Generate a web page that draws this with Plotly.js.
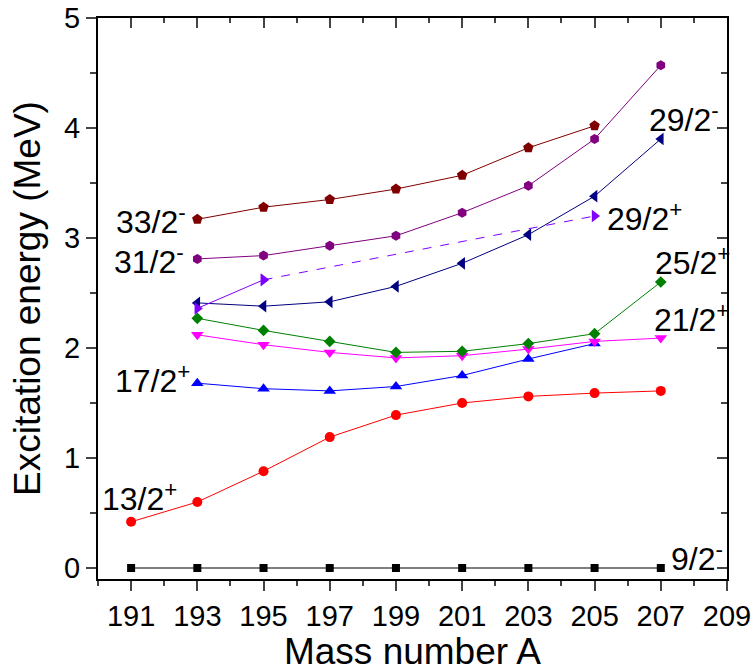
<!DOCTYPE html>
<html>
<head>
<meta charset="utf-8">
<script src="https://cdn.plot.ly/plotly-3.0.1.min.js"></script>
<style>
  html, body { margin: 0; padding: 0; background: #fff; }
  #chart { width: 756px; height: 672px; }
</style>
</head>
<body>
<div id="chart"></div>
<script>
// Mass numbers of the isotopes
const massAll = [191, 193, 195, 197, 199, 201, 203, 205, 207];
const mass193to207 = [193, 195, 197, 199, 201, 203, 205, 207];
const mass193to205 = [193, 195, 197, 199, 201, 203, 205];
const mass29p = [193, 195, 205];

// Excitation energies (MeV) of each level
const e9_2m  = [0, 0, 0, 0, 0, 0, 0, 0, 0];
const e13_2p = [0.42, 0.60, 0.88, 1.19, 1.39, 1.50, 1.56, 1.59, 1.61];
const e17_2p = [1.68, 1.63, 1.61, 1.65, 1.75, 1.90, 2.04];
const e21_2p = [2.12, 2.03, 1.96, 1.91, 1.93, 1.99, 2.06, 2.09];
const e25_2p = [2.27, 2.16, 2.06, 1.96, 1.97, 2.04, 2.13, 2.60];
const e29_2m = [2.41, 2.38, 2.42, 2.56, 2.77, 3.03, 3.38, 3.90];
const e29_2p = [2.36, 2.62, 3.20];
const e31_2m = [2.81, 2.84, 2.93, 3.02, 3.23, 3.475, 3.90, 4.57];
const e33_2m = [3.17, 3.28, 3.35, 3.445, 3.57, 3.82, 4.02];

// Level labels and where they sit
const labelText = ['33/2<sup>-</sup>', '31/2<sup>-</sup>', '17/2<sup>+</sup>', '13/2<sup>+</sup>',
                   '29/2<sup>-</sup>', '29/2<sup>+</sup>', '25/2<sup>+</sup>', '21/2<sup>+</sup>', '9/2<sup>-</sup>'];
const labelX = [192.72, 192.66, 192.85, 192.45, 206.59, 205.32, 206.77, 206.74, 207.25];
const labelY = [3.166, 2.80, 1.72, 0.65, 4.09, 3.19, 2.79, 2.27, 0.10];
const labelSide = ['right', 'right', 'right', 'right', 'left', 'left', 'left', 'left', 'left'];

const FONT = 'Arial, "Liberation Sans", sans-serif';

function series(x, y, color, symbol, size, dash) {
  return {
    x: x, y: y, type: 'scatter', mode: 'lines+markers',
    line: { color: color, width: 1, dash: dash || 'solid' },
    marker: { color: color, symbol: symbol, size: size, line: { width: 0 } },
    showlegend: false, hoverinfo: 'x+y'
  };
}

const traces = [
  series(massAll, e9_2m, '#000000', 'square', 8),
  series(massAll, e13_2p, '#ff0000', 'circle', 10),
  series(mass193to205, e17_2p, '#0000ff', 'triangle-up', 11),
  series(mass193to207, e21_2p, '#ff00ff', 'triangle-down', 11),
  series(mass193to207, e25_2p, '#008000', 'diamond', 9),
  series(mass193to207, e29_2m, '#000080', 'triangle-left', 11),
  series(mass29p.slice(0, 2), e29_2p.slice(0, 2), '#8000ff', 'triangle-right', 11),
  series(mass29p.slice(1), e29_2p.slice(1), '#8000ff', 'triangle-right', 11, 'dash'),
  series(mass193to207, e31_2m, '#800080', 'hexagon', 10),
  series(mass193to205, e33_2m, '#800000', 'pentagon', 11),
  // empty trace that carries the mirrored top/right axes
  { x: [], y: [], xaxis: 'x2', yaxis: 'y2', type: 'scatter', showlegend: false }
];
traces[0].line.color = '#555555';
traces[0].line.width = 1.5;

const annotations = labelText.map((t, i) => ({
  text: t, x: labelX[i], y: labelY[i], xref: 'x', yref: 'y',
  xanchor: labelSide[i], yanchor: 'middle', showarrow: false,
  font: { family: FONT, size: 32, color: '#000' }
}));

const xr = [190, 209], yr = [-0.1, 5];

const layout = {
  width: 756, height: 672,
  margin: { l: 98, r: 29, t: 18, b: 93 },
  paper_bgcolor: '#fff', plot_bgcolor: '#fff',
  font: { family: FONT, color: '#000' },
  showlegend: false,
  xaxis: {
    range: xr, tick0: 191, dtick: 2, ticks: 'outside', ticklen: 10, tickwidth: 2,
    minor: { dtick: 1, tick0: 190, ticks: 'outside', ticklen: 5, tickwidth: 2 },
    showline: true, linewidth: 2, linecolor: '#000', showgrid: false, zeroline: false,
    tickfont: { size: 29 },
    title: { text: 'Mass number A', font: { size: 37 }, standoff: 14 }
  },
  yaxis: {
    range: yr, tick0: 0, dtick: 1, ticks: 'outside', ticklen: 10, tickwidth: 2,
    minor: { dtick: 0.5, ticks: 'outside', ticklen: 6, tickwidth: 2 },
    showline: true, linewidth: 2, linecolor: '#000', showgrid: false, zeroline: false,
    tickfont: { size: 29 },
    title: { text: 'Excitation energy (MeV)', font: { size: 37 }, standoff: 12 }
  },
  xaxis2: {
    range: xr, overlaying: 'x', side: 'top', anchor: 'y2', tick0: 191, dtick: 2,
    ticks: 'inside', ticklen: 10, tickwidth: 2,
    minor: { dtick: 1, tick0: 190, ticks: 'inside', ticklen: 5, tickwidth: 2 },
    showticklabels: false, showline: true, linewidth: 2, linecolor: '#000',
    showgrid: false, zeroline: false
  },
  yaxis2: {
    range: yr, overlaying: 'y', side: 'right', anchor: 'x2', tick0: 0, dtick: 1,
    ticks: 'inside', ticklen: 10, tickwidth: 2,
    minor: { dtick: 0.5, ticks: 'inside', ticklen: 6, tickwidth: 2 },
    showticklabels: false, showline: true, linewidth: 2, linecolor: '#000',
    showgrid: false, zeroline: false
  },
  annotations: annotations
};

Plotly.newPlot('chart', traces, layout, { displayModeBar: false, staticPlot: true });
</script>
</body>
</html>
